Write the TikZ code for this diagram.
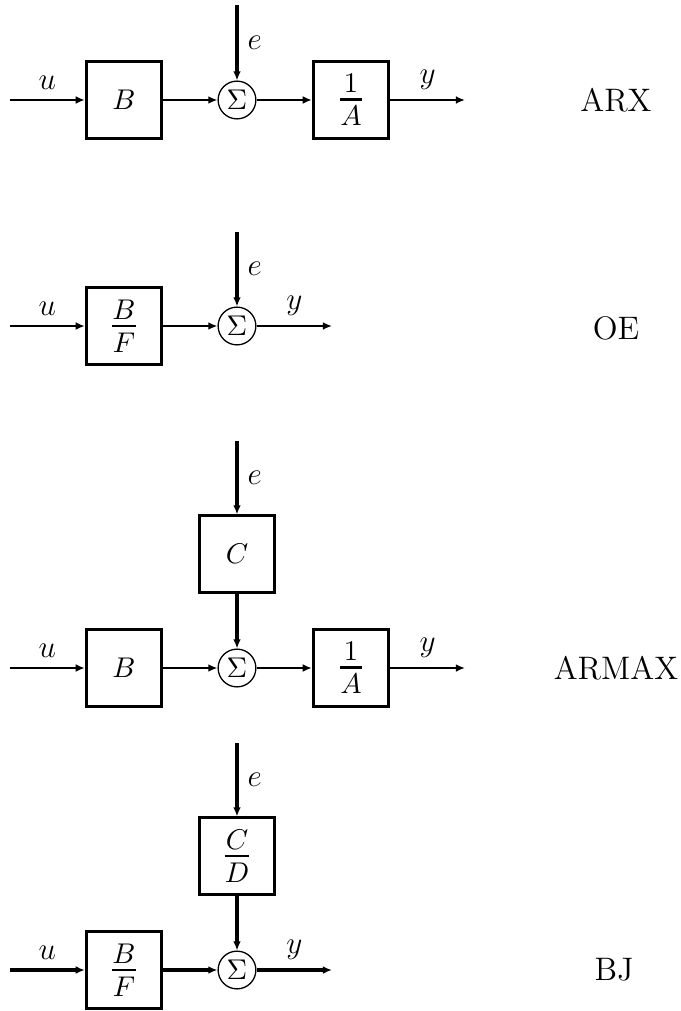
\documentclass[tikz,border=0pt]{standalone}
\usepackage{amsmath}
\usetikzlibrary{arrows.meta,positioning}
\tikzset{
	blk/.style={draw, line width=1.1pt, minimum width=1.02cm, minimum height=1.03cm, inner sep=0, font=\fontsize{11}{13}\selectfont},
	sumnode/.style={draw, circle, line width=0.5pt, minimum size=0.51cm, inner sep=0, font=\fontsize{11}{13}\selectfont},
	sig/.style={-{Latex[length=3.5pt,width=3pt]}, line width=1.1pt},
	noise/.style={-{Latex[length=3.5pt,width=3pt]}, line width=1.5pt},
	lbl/.style={font=\fontsize{13}{15}\selectfont},
	mdl/.style={font=\fontsize{12.5}{15}\selectfont}
}
\newcommand{\blkfrac}[2]{$\genfrac{}{}{1.1pt}{1}{\displaystyle #1\rule[-1pt]{0pt}{1pt}}{\displaystyle\rule{0pt}{8.5pt}#2}$}
\newcommand{\sumsym}{$\Sigma$}

\begin{document}
\begin{tikzpicture}[x=0.0135cm, y=-0.0135cm]
	\useasboundingbox (0,0) rectangle (681,1011);
	% ARX
	\coordinate (arx_in) at (10,100);
	\coordinate (arx_out) at (465,100);
	\coordinate (arx_e) at (237,5);
	\node[blk] (arx_B) at (124,100) {$B$};
	\node[sumnode] (arx_S) at (237,100) {\sumsym};
	\node[blk] (arx_A) at (351,100) {\blkfrac{1}{A}};
	\node[mdl] (arx_name) at (616,100) {ARX};
	\draw[sig] (arx_in) -- node[above, lbl] {$u$} (arx_B);
	\draw[sig] (arx_B) -- (arx_S);
	\draw[sig] (arx_S) -- (arx_A);
	\draw[sig] (arx_A) -- node[above, lbl] {$y$} (arx_out);
	\draw[noise] (arx_e) -- node[right, lbl] {$e$} (arx_S);
	% OE
	\coordinate (oe_in) at (10,326);
	\coordinate (oe_out) at (332,326);
	\coordinate (oe_e) at (237,232);
	\node[blk] (oe_BF) at (124,326) {\blkfrac{B}{F}};
	\node[sumnode] (oe_S) at (237,326) {\sumsym};
	\node[mdl] (oe_name) at (616,328) {OE};
	\draw[sig] (oe_in) -- node[above, lbl] {$u$} (oe_BF);
	\draw[sig] (oe_BF) -- (oe_S);
	\draw[sig] (oe_S) -- node[above, lbl] {$y$} (oe_out);
	\draw[noise] (oe_e) -- node[right, lbl] {$e$} (oe_S);
	% ARMAX
	\coordinate (armax_in) at (10,668);
	\coordinate (armax_out) at (465,668);
	\coordinate (armax_e) at (237,441);
	\node[blk] (armax_C) at (237,554) {$C$};
	\node[blk] (armax_B) at (124,668) {$B$};
	\node[sumnode] (armax_S) at (237,668) {\sumsym};
	\node[blk] (armax_A) at (351,668) {\blkfrac{1}{A}};
	\node[mdl] (armax_name) at (616,668) {ARMAX};
	\draw[sig] (armax_in) -- node[above, lbl] {$u$} (armax_B);
	\draw[sig] (armax_B) -- (armax_S);
	\draw[sig] (armax_S) -- (armax_A);
	\draw[sig] (armax_A) -- node[above, lbl] {$y$} (armax_out);
	\draw[noise] (armax_e) -- node[right, lbl] {$e$} (armax_C);
	\draw[noise] (armax_C) -- (armax_S);
	% BJ
	\coordinate (bj_in) at (10,970);
	\coordinate (bj_out) at (332,970);
	\coordinate (bj_e) at (237,743);
	\node[blk] (bj_CD) at (237,856) {\blkfrac{C}{D}};
	\node[blk] (bj_BF) at (124,970) {\blkfrac{B}{F}};
	\node[sumnode] (bj_S) at (237,970) {\sumsym};
	\node[mdl] (bj_name) at (614,970) {BJ};
	\draw[noise] (bj_in) -- node[above, lbl] {$u$} (bj_BF);
	\draw[noise] (bj_BF) -- (bj_S);
	\draw[noise] (bj_S) -- node[above, lbl] {$y$} (bj_out);
	\draw[noise] (bj_e) -- node[right, lbl] {$e$} (bj_CD);
	\draw[noise] (bj_CD) -- (bj_S);
\end{tikzpicture}
\end{document}
